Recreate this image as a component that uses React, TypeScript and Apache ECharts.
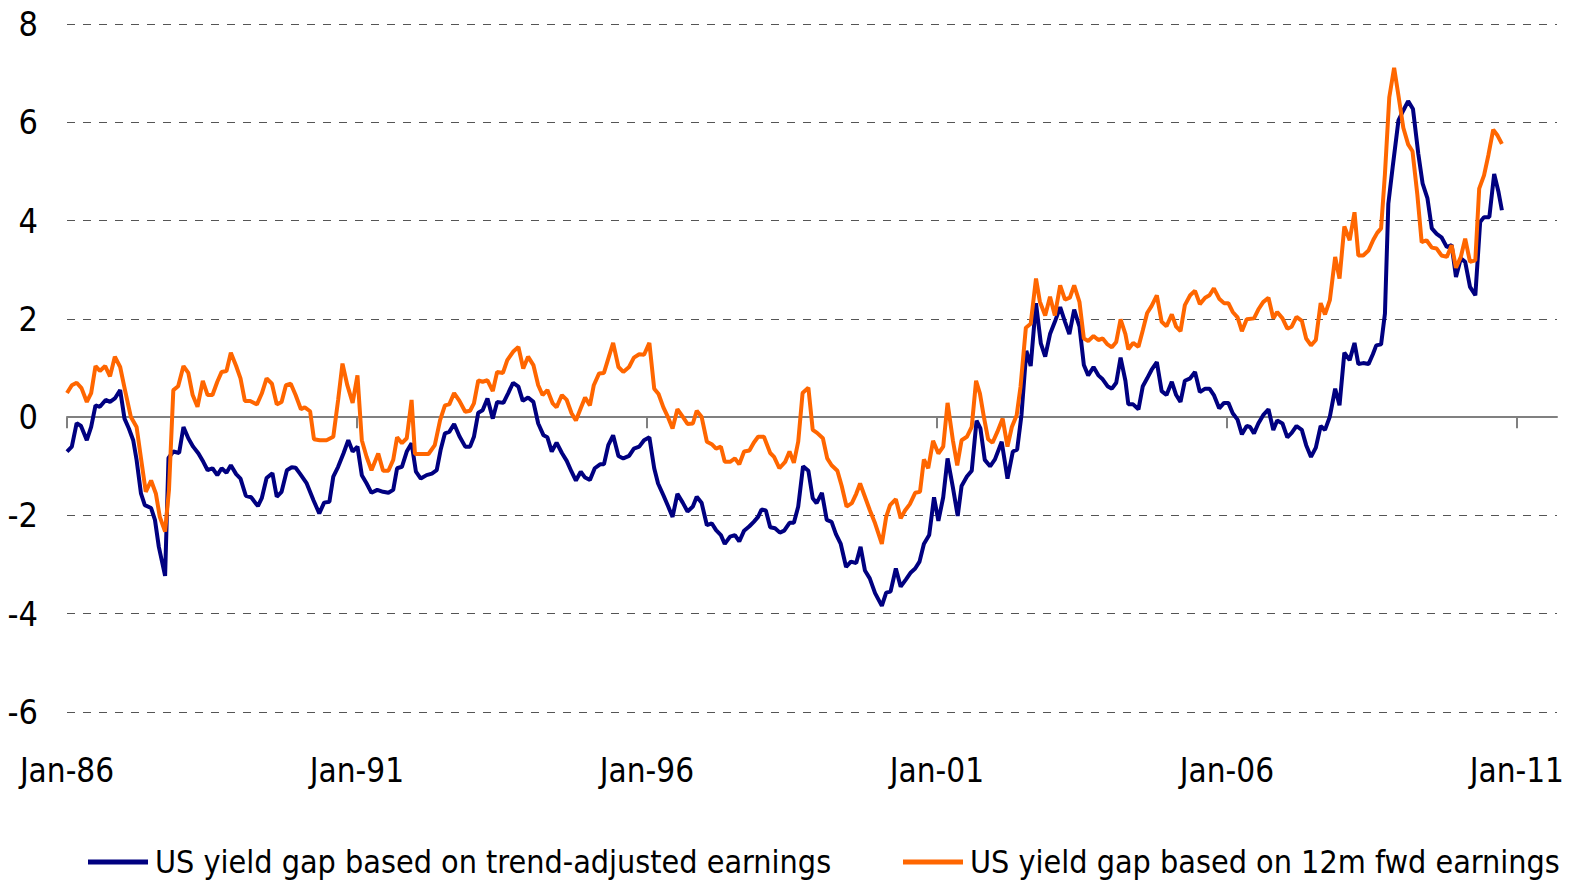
import React, { useEffect, useRef } from "react";
import * as echarts from "echarts";

// x = months since Jan-86, y = yield gap (%)
const trendAdjusted: [number, number][] = [
  [0, -0.7], [1, -0.6], [2, -0.12], [2.9, -0.18], [4.1, -0.47], [5, -0.2], [5.9, 0.24], [6.8, 0.21], [8, 0.35], [8.9, 0.31],
  [9.9, 0.38], [11, 0.55], [11.9, -0.03], [12.8, -0.23], [13.7, -0.47], [14.4, -0.87], [15.3, -1.55], [16.1, -1.79], [17.4, -1.85], [18.2, -2.09],
  [19, -2.64], [20.3, -3.23], [21, -0.83], [22, -0.7], [23.2, -0.73], [24.1, -0.2], [25.1, -0.43], [26.1, -0.6], [27.2, -0.74], [28.2, -0.91],
  [29.1, -1.08], [30.1, -1.04], [31.1, -1.18], [32, -1.04], [33, -1.13], [33.9, -0.98], [35, -1.16], [35.9, -1.25], [37, -1.6], [38.1, -1.63],
  [39.5, -1.81], [40.3, -1.65], [41.3, -1.24], [42.5, -1.14], [43.4, -1.62], [44.4, -1.52], [45.5, -1.08], [46.5, -1.02], [47.3, -1.03], [48.2, -1.15],
  [49.6, -1.35], [51, -1.69], [52.2, -1.96], [53.2, -1.74], [54.3, -1.72], [55.1, -1.21], [56.1, -1.01], [57.2, -0.74], [58.2, -0.47], [59.1, -0.7],
  [60.1, -0.6], [61, -1.18], [62, -1.35], [63, -1.54], [64.2, -1.48], [65.4, -1.52], [66.5, -1.54], [67.5, -1.48], [68.3, -1.04], [69.3, -1.01],
  [70.3, -0.7], [71.3, -0.53], [72.2, -1.11], [73.2, -1.25], [74.4, -1.18], [75.5, -1.15], [76.5, -1.08], [77.3, -0.67], [78.2, -0.33], [79.1, -0.3],
  [80.1, -0.14], [81.2, -0.39], [82.4, -0.6], [83.4, -0.6], [84.2, -0.4], [85.1, 0.09], [86, 0.14], [87, 0.38], [88.1, -0.03], [89, 0.31],
  [90.3, 0.29], [91.3, 0.49], [92.3, 0.7], [93.4, 0.62], [94.3, 0.33], [95.4, 0.4], [96.5, 0.31], [97.5, -0.13], [98.6, -0.37], [99.4, -0.41],
  [100.3, -0.7], [101.3, -0.52], [102.4, -0.73], [103.4, -0.89], [104.4, -1.11], [105.3, -1.29], [106.3, -1.11], [107.2, -1.23], [108.2, -1.28], [109.2, -1.04],
  [110.3, -0.96], [111.1, -0.96], [112, -0.57], [113, -0.37], [114.1, -0.79], [115.1, -0.84], [116.3, -0.79], [117.3, -0.64], [118.4, -0.6], [119.4, -0.47],
  [120.5, -0.41], [121.5, -1.04], [122.3, -1.35], [123.4, -1.59], [124.4, -1.82], [125.3, -2.03], [126.3, -1.56], [127.4, -1.74], [128.4, -1.92], [129.5, -1.82],
  [130.3, -1.62], [131.3, -1.74], [132.4, -2.2], [133.4, -2.16], [134.3, -2.3], [135.3, -2.4], [136.1, -2.58], [137.2, -2.43], [138.2, -2.4], [139.1, -2.53],
  [140.1, -2.31], [141.2, -2.22], [142.1, -2.13], [143, -2.03], [143.7, -1.88], [144.6, -1.9], [145.5, -2.24], [146.5, -2.26], [147.5, -2.35], [148.4, -2.31],
  [149.5, -2.15], [150.4, -2.15], [151.3, -1.82], [152.3, -1.0], [153.4, -1.09], [154.3, -1.65], [155.1, -1.75], [156.2, -1.54], [157.2, -2.09], [158.2, -2.13],
  [159.1, -2.38], [160.1, -2.58], [161.2, -3.05], [162.2, -2.94], [163.3, -2.97], [164.2, -2.64], [165.1, -3.12], [166.1, -3.28], [167.2, -3.58], [168.6, -3.84],
  [169.5, -3.57], [170.4, -3.55], [171.5, -3.08], [172.5, -3.45], [173.6, -3.3], [174.6, -3.16], [175.5, -3.08], [176.4, -2.94], [177.3, -2.58], [178.4, -2.4],
  [179.4, -1.63], [180.3, -2.11], [181.3, -1.63], [182.2, -0.84], [183.3, -1.43], [184.3, -2.01], [185.1, -1.4], [186.2, -1.21], [187.2, -1.09], [188.2, -0.07],
  [189, -0.23], [189.9, -0.87], [191, -1.0], [192, -0.86], [193.4, -0.5], [194.6, -1.25], [195.7, -0.7], [196.6, -0.66], [197.5, 0.05], [198.5, 1.35],
  [199.4, 1.04], [200.5, 2.32], [201.5, 1.5], [202.4, 1.23], [203.4, 1.69], [204.4, 1.94], [205.5, 2.24], [206.5, 1.94], [207.4, 1.69], [208.4, 2.19],
  [209.5, 1.84], [210.4, 1.06], [211.3, 0.85], [212.4, 1.02], [213.4, 0.85], [214.3, 0.77], [215.3, 0.63], [216.2, 0.58], [217.1, 0.7], [218, 1.21],
  [219, 0.74], [219.6, 0.26], [220.6, 0.26], [221.7, 0.16], [222.6, 0.63], [223.5, 0.79], [224.4, 0.96], [225.5, 1.12], [226.5, 0.53], [227.5, 0.45],
  [228.6, 0.72], [229.5, 0.45], [230.4, 0.31], [231.3, 0.74], [232.4, 0.79], [233.4, 0.92], [234.4, 0.51], [235.5, 0.58], [236.4, 0.58], [237.3, 0.45],
  [238.4, 0.18], [239.4, 0.29], [240.3, 0.29], [241.2, 0.08], [242.2, -0.05], [243.1, -0.35], [244.1, -0.18], [244.8, -0.2], [245.6, -0.33], [246.5, -0.13],
  [247.5, 0.04], [248.6, 0.16], [249.6, -0.26], [250.4, -0.07], [251.5, -0.13], [252.5, -0.41], [253.4, -0.32], [254.4, -0.18], [255.5, -0.26], [256.4, -0.57],
  [257.4, -0.81], [258.4, -0.62], [259.4, -0.18], [260.3, -0.26], [261.3, 0.01], [262.4, 0.58], [263.3, 0.24], [264.3, 1.31], [265.4, 1.16], [266.4, 1.51],
  [267.2, 1.08], [268.2, 1.1], [269.3, 1.08], [270.2, 1.28], [270.9, 1.46], [271.9, 1.48], [272.7, 2.11], [273.4, 4.34], [274.3, 5.09], [275.5, 6.04],
  [276.5, 6.24], [277.5, 6.43], [278.5, 6.27], [279.6, 5.36], [280.5, 4.75], [281.5, 4.45], [282.4, 3.84], [283.4, 3.73], [284.4, 3.66], [285.5, 3.46],
  [286.5, 3.5], [287.4, 2.85], [288.4, 3.23], [289.3, 3.16], [290.3, 2.65], [291.4, 2.48], [292.4, 3.97], [293.2, 4.07], [294.3, 4.07], [295.3, 4.95],
  [296.2, 4.58], [296.9, 4.21],
];

const fwd12m: [number, number][] = [
  [0, 0.49], [1, 0.65], [2, 0.7], [3, 0.59], [4.1, 0.31], [5, 0.49], [5.9, 1.04], [6.8, 0.94], [7.9, 1.04], [8.9, 0.83],
  [9.9, 1.23], [11, 1.02], [12, 0.55], [13.2, 0.01], [14.4, -0.2], [15.3, -0.83], [16.3, -1.52], [17.4, -1.29], [18.4, -1.56], [19.2, -2.03],
  [20.3, -2.33], [21.1, -1.48], [22, 0.55], [23, 0.63], [24.1, 1.04], [25.1, 0.9], [26, 0.45], [27, 0.21], [28.1, 0.74], [29.1, 0.45],
  [30.1, 0.45], [31.1, 0.72], [32, 0.92], [33, 0.94], [33.9, 1.31], [35, 1.04], [35.9, 0.79], [36.8, 0.33], [37.9, 0.33], [39.3, 0.26],
  [40.3, 0.48], [41.3, 0.79], [42.4, 0.68], [43.4, 0.26], [44.4, 0.31], [45.3, 0.65], [46.3, 0.68], [47.3, 0.45], [48.4, 0.16], [49.2, 0.2],
  [50.3, 0.12], [51.1, -0.45], [52.3, -0.47], [53.7, -0.47], [55.1, -0.4], [56.1, 0.35], [57, 1.09], [58, 0.65], [59.1, 0.29], [60.1, 0.85],
  [61, -0.47], [62, -0.81], [63, -1.08], [64.4, -0.74], [65.4, -1.09], [66.5, -1.09], [67.5, -0.87], [68.3, -0.41], [69.3, -0.53], [70.3, -0.43],
  [71.3, 0.35], [72, -0.75], [73.4, -0.75], [74.8, -0.75], [76.1, -0.57], [77.2, -0.06], [78.2, 0.24], [79.1, 0.26], [80.1, 0.49], [81.2, 0.33],
  [82.4, 0.11], [83.4, 0.13], [84.2, 0.28], [85.1, 0.75], [86, 0.72], [87, 0.75], [88.1, 0.53], [89, 0.92], [90.2, 0.9], [91.1, 1.16],
  [92.3, 1.33], [93.4, 1.43], [94.4, 0.99], [95.4, 1.23], [96.5, 1.06], [97.5, 0.65], [98.4, 0.45], [99.4, 0.55], [100.5, 0.28], [101.3, 0.2],
  [102.4, 0.45], [103.4, 0.35], [104.4, 0.08], [105.3, -0.07], [106.3, 0.18], [107.2, 0.4], [108.2, 0.24], [109, 0.65], [110.1, 0.89], [111.1, 0.9],
  [112, 1.19], [113, 1.51], [114.1, 1.02], [115.1, 0.92], [116.3, 1.02], [117.3, 1.21], [118.4, 1.28], [119.4, 1.27], [120.5, 1.51], [121.5, 0.58],
  [122.4, 0.47], [123.4, 0.2], [124.4, -0.01], [125.3, -0.23], [126.3, 0.16], [127.4, 0.01], [128.4, -0.14], [129.5, -0.13], [130.3, 0.13], [131.3, 0.01],
  [132.4, -0.5], [133.4, -0.55], [134.3, -0.64], [135.3, -0.6], [136.1, -0.91], [137.2, -0.91], [138.2, -0.84], [139.1, -0.96], [140.1, -0.7], [141.2, -0.68],
  [142.1, -0.52], [143, -0.4], [144.2, -0.4], [145.5, -0.73], [146.3, -0.81], [147.4, -1.04], [148.6, -0.91], [149.5, -0.7], [150.4, -0.93], [151.3, -0.5],
  [152.2, 0.49], [153.4, 0.6], [154.3, -0.26], [155.2, -0.32], [156.4, -0.43], [157.3, -0.84], [158.2, -0.98], [159.4, -1.09], [160.3, -1.4], [161.3, -1.82],
  [162.4, -1.75], [163.3, -1.56], [164.1, -1.35], [165.1, -1.62], [166.1, -1.89], [167.2, -2.16], [168.6, -2.58], [169.5, -2.03], [170.3, -1.79], [171.5, -1.67],
  [172.5, -2.06], [173.4, -1.9], [174.4, -1.77], [175.5, -1.54], [176.5, -1.52], [177.3, -0.86], [178.2, -1.04], [179.2, -0.48], [180.3, -0.74], [181.3, -0.6],
  [182.2, 0.29], [183.3, -0.47], [184.2, -0.98], [185.1, -0.47], [186.2, -0.4], [187.2, -0.2], [188.1, 0.74], [188.9, 0.48], [189.7, 0.01], [190.6, -0.45],
  [191.5, -0.52], [192.5, -0.3], [193.6, -0.03], [194.6, -0.6], [195.5, -0.2], [196.5, 0.04], [197.3, 0.62], [198.4, 1.82], [199.4, 1.9], [200.5, 2.82],
  [201.3, 2.35], [202.4, 2.07], [203.4, 2.45], [204.4, 2.07], [205.5, 2.68], [206.5, 2.39], [207.5, 2.43], [208.4, 2.68], [209.5, 2.34], [210.4, 1.6],
  [211.3, 1.55], [212.4, 1.65], [213.4, 1.57], [214.3, 1.6], [215.3, 1.48], [216.2, 1.42], [217.1, 1.53], [218, 1.99], [219, 1.69], [219.6, 1.38],
  [220.6, 1.51], [221.7, 1.43], [222.6, 1.77], [223.5, 2.12], [224.4, 2.26], [225.5, 2.48], [226.5, 1.94], [227.5, 1.85], [228.6, 2.09], [229.5, 1.84],
  [230.4, 1.75], [231.3, 2.28], [232.4, 2.48], [233.4, 2.57], [234.4, 2.3], [235.5, 2.43], [236.4, 2.48], [237.3, 2.62], [238.4, 2.41], [239.4, 2.32],
  [240.3, 2.32], [241.2, 2.14], [242.2, 2.03], [243.1, 1.75], [244.1, 1.99], [245.6, 2.01], [246.5, 2.19], [247.5, 2.34], [248.6, 2.43], [249.6, 2.01],
  [250.4, 2.14], [251.5, 2.01], [252.5, 1.8], [253.4, 1.84], [254.4, 2.04], [255.5, 1.96], [256.4, 1.6], [257.4, 1.46], [258.4, 1.57], [259.4, 2.32],
  [260.3, 2.09], [261.3, 2.38], [262.4, 3.26], [263.3, 2.82], [264.3, 3.88], [265.4, 3.6], [266.4, 4.17], [267.2, 3.29], [268.2, 3.29], [269.3, 3.39],
  [270.3, 3.61], [271.1, 3.75], [271.9, 3.84], [272.7, 4.95], [273.6, 6.51], [274.6, 7.11], [275.5, 6.54], [276.5, 5.89], [277.5, 5.55], [278.4, 5.41],
  [279.4, 4.53], [280.3, 3.56], [281.3, 3.6], [282.4, 3.45], [283.4, 3.43], [284.4, 3.29], [285.5, 3.26], [286.5, 3.5], [287.4, 3.04], [288.4, 3.26],
  [289.3, 3.63], [290.3, 3.16], [291.4, 3.19], [292.2, 4.65], [293.2, 4.92], [294.1, 5.33], [295.1, 5.85], [296, 5.73], [296.9, 5.56],
];

const tickValues = [0, 60, 120, 180, 240, 300];
const tickLabels = ["Jan-86", "Jan-91", "Jan-96", "Jan-01", "Jan-06", "Jan-11"];
const seriesNames = [
  "US yield gap based on trend-adjusted earnings",
  "US yield gap based on 12m fwd earnings",
];

const FONT = "'DejaVu Sans Condensed', 'Liberation Sans Narrow', 'DejaVu Sans', sans-serif";

export default function App() {
  const ref = useRef<HTMLDivElement>(null);
  useEffect(() => {
    document.body.style.margin = "0";
    if (!ref.current) return;
    const chart = echarts.init(ref.current, undefined, { renderer: "svg" });
    const xMax = 308.3;
    const legendBase = {
      top: 846,
      width: 800,
      padding: 0,
      itemWidth: 60,
      itemHeight: 5,
      icon: "rect",
      textStyle: { fontFamily: FONT, fontSize: 32, color: "#000", padding: [0, 0, 0, 2] },
    };
    chart.setOption({
      animation: false,
      backgroundColor: "#ffffff",
      textStyle: { fontFamily: FONT },
      grid: { left: 67, right: 13, top: 24, bottom: 170, containLabel: false },
      legend: [
        { ...legendBase, left: 88, data: [seriesNames[0]] },
        { ...legendBase, left: 903, data: [seriesNames[1]] },
      ],
      xAxis: [
        {
          type: "value",
          min: 0,
          max: xMax,
          position: "bottom",
          axisLine: { show: true, onZero: true, lineStyle: { color: "#808080", width: 2 } },
          axisTick: { show: true, customValues: tickValues, length: 11, lineStyle: { color: "#808080", width: 2 } },
          axisLabel: { show: false },
          splitLine: { show: false },
        },
        {
          type: "value",
          min: 0,
          max: xMax,
          position: "bottom",
          axisLine: { show: false, onZero: false },
          axisTick: { show: false },
          splitLine: { show: false },
          axisLabel: {
            show: true,
            customValues: tickValues,
            margin: 42,
            fontSize: 33,
            color: "#000",
            fontFamily: FONT,
            formatter: (v: number) => tickLabels[tickValues.indexOf(Math.round(v))] ?? "",
          },
        },
      ],
      yAxis: {
        type: "value",
        min: -6,
        max: 8,
        interval: 2,
        axisLine: { show: false },
        axisTick: { show: false },
        axisLabel: { fontSize: 34, color: "#000", margin: 29, fontFamily: FONT },
        splitLine: { show: true, lineStyle: { color: "#555", type: [8, 8], width: 1.2 } },
      },
      series: [
        {
          name: seriesNames[0],
          type: "line",
          xAxisIndex: 0,
          data: trendAdjusted,
          showSymbol: false,
          symbol: "none",
          lineStyle: { color: "#000080", width: 4 },
          itemStyle: { color: "#000080" },
          z: 3,
        },
        {
          name: seriesNames[1],
          type: "line",
          xAxisIndex: 0,
          data: fwd12m,
          showSymbol: false,
          symbol: "none",
          lineStyle: { color: "#FF6600", width: 4 },
          itemStyle: { color: "#FF6600" },
          z: 4,
        },
      ],
    });
    return () => chart.dispose();
  }, []);
  return <div ref={ref} style={{ width: 1570, height: 882 }} />;
}
